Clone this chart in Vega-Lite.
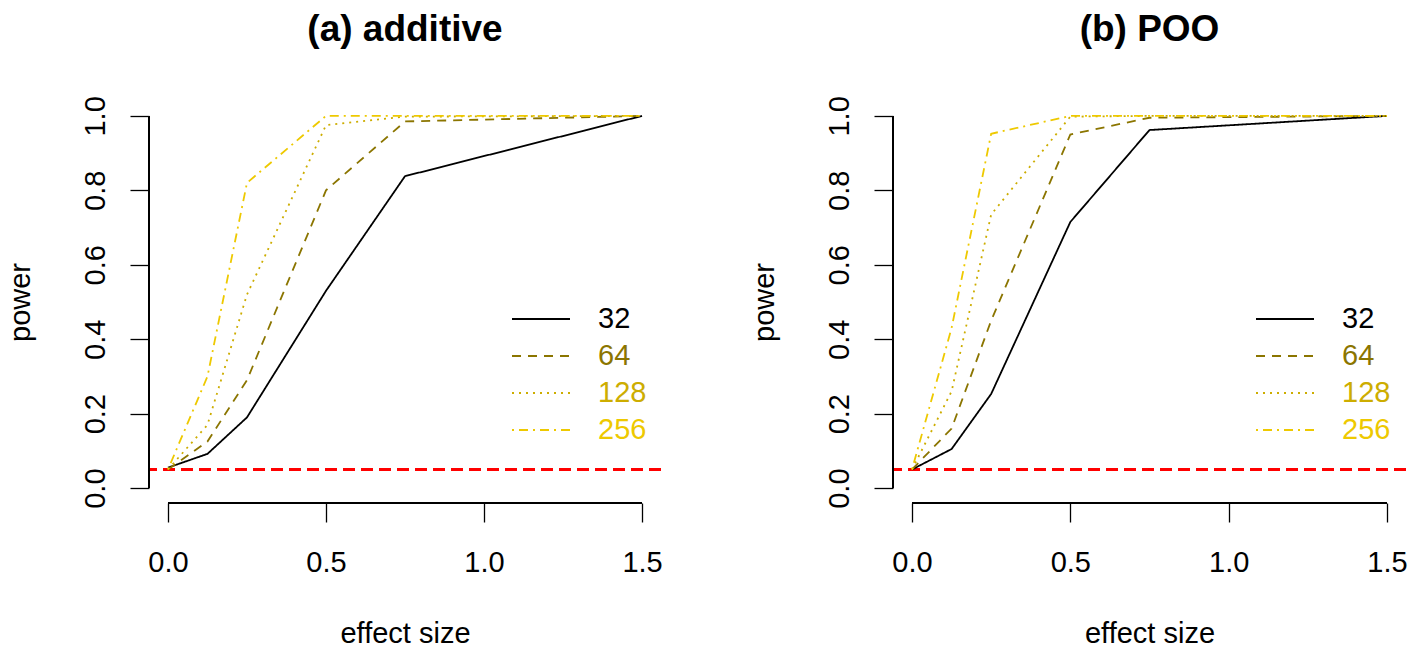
{
  "$schema": "https://vega.github.io/schema/vega-lite/v6.json",
  "background": "white",
  "padding": {"left": 5, "top": 10, "right": 0, "bottom": 0},
  "spacing": 86,
  "config": {
    "view": {"stroke": null},
    "font": "Liberation Sans",
    "axis": {
      "grid": false, "domain": false, "tickColor": "black", "tickWidth": 1.3, "tickSize": 19,
      "labelFont": "Liberation Sans", "labelFontSize": 29, "labelColor": "black",
      "titleFont": "Liberation Sans", "titleFontSize": 29, "titleFontWeight": "normal", "titleColor": "black"
    },
    "title": {"font": "Liberation Sans", "fontSize": 37, "fontWeight": "bold", "color": "black", "baseline": "alphabetic", "offset": 47, "anchor": "middle"},
    "legend": {
      "orient": "none", "legendX": 371, "legendY": 197, "title": null,
      "labelFont": "Liberation Sans", "labelFontSize": 29, "labelOffset": 36,
      "symbolType": "M-1.45,0H1.45", "symbolSize": 1600, "symbolStrokeWidth": 1.8, "rowPadding": 1,
      "labelColor": {"expr": "datum.value == '32' ? '#000000' : datum.value == '64' ? '#8B7500' : datum.value == '128' ? '#CDAD00' : '#EEC900'"}
    }
  },
  "data": {"values": [
    {"panel": "a", "es": 0, "n": "32", "power": 0.055},
    {"panel": "a", "es": 0.125, "n": "32", "power": 0.092},
    {"panel": "a", "es": 0.25, "n": "32", "power": 0.19},
    {"panel": "a", "es": 0.5, "n": "32", "power": 0.53},
    {"panel": "a", "es": 0.75, "n": "32", "power": 0.838},
    {"panel": "a", "es": 1.5, "n": "32", "power": 1.0},
    {"panel": "a", "es": 0, "n": "64", "power": 0.05},
    {"panel": "a", "es": 0.125, "n": "64", "power": 0.125},
    {"panel": "a", "es": 0.25, "n": "64", "power": 0.29},
    {"panel": "a", "es": 0.5, "n": "64", "power": 0.80},
    {"panel": "a", "es": 0.75, "n": "64", "power": 0.985},
    {"panel": "a", "es": 1.5, "n": "64", "power": 1.0},
    {"panel": "a", "es": 0, "n": "128", "power": 0.05},
    {"panel": "a", "es": 0.125, "n": "128", "power": 0.17},
    {"panel": "a", "es": 0.25, "n": "128", "power": 0.52},
    {"panel": "a", "es": 0.5, "n": "128", "power": 0.975},
    {"panel": "a", "es": 0.75, "n": "128", "power": 0.998},
    {"panel": "a", "es": 1.5, "n": "128", "power": 1.0},
    {"panel": "a", "es": 0, "n": "256", "power": 0.05},
    {"panel": "a", "es": 0.125, "n": "256", "power": 0.30},
    {"panel": "a", "es": 0.25, "n": "256", "power": 0.82},
    {"panel": "a", "es": 0.5, "n": "256", "power": 1.0},
    {"panel": "a", "es": 0.75, "n": "256", "power": 1.0},
    {"panel": "a", "es": 1.5, "n": "256", "power": 1.0},
    {"panel": "b", "es": 0, "n": "32", "power": 0.05},
    {"panel": "b", "es": 0.125, "n": "32", "power": 0.105},
    {"panel": "b", "es": 0.25, "n": "32", "power": 0.253},
    {"panel": "b", "es": 0.5, "n": "32", "power": 0.715},
    {"panel": "b", "es": 0.75, "n": "32", "power": 0.962},
    {"panel": "b", "es": 1.5, "n": "32", "power": 1.0},
    {"panel": "b", "es": 0, "n": "64", "power": 0.05},
    {"panel": "b", "es": 0.125, "n": "64", "power": 0.16},
    {"panel": "b", "es": 0.25, "n": "64", "power": 0.45},
    {"panel": "b", "es": 0.5, "n": "64", "power": 0.95},
    {"panel": "b", "es": 0.75, "n": "64", "power": 0.995},
    {"panel": "b", "es": 1.5, "n": "64", "power": 1.0},
    {"panel": "b", "es": 0, "n": "128", "power": 0.05},
    {"panel": "b", "es": 0.125, "n": "128", "power": 0.26},
    {"panel": "b", "es": 0.25, "n": "128", "power": 0.735},
    {"panel": "b", "es": 0.5, "n": "128", "power": 0.998},
    {"panel": "b", "es": 0.75, "n": "128", "power": 1.0},
    {"panel": "b", "es": 1.5, "n": "128", "power": 1.0},
    {"panel": "b", "es": 0, "n": "256", "power": 0.05},
    {"panel": "b", "es": 0.125, "n": "256", "power": 0.43},
    {"panel": "b", "es": 0.25, "n": "256", "power": 0.952},
    {"panel": "b", "es": 0.5, "n": "256", "power": 1.0},
    {"panel": "b", "es": 0.75, "n": "256", "power": 1.0},
    {"panel": "b", "es": 1.5, "n": "256", "power": 1.0}
  ]},
  "resolve": {"legend": {"color": "independent", "strokeDash": "independent"}},
  "hconcat": [
    {
      "title": "(a) additive",
      "width": 512, "height": 402,
      "transform": [{"filter": "datum.panel == 'a'"}],
      "layer": [
        {
          "mark": {"type": "rule", "color": "#FF0000", "strokeWidth": 1.8, "strokeDash": [12, 6]},
          "encoding": {"y": {"datum": 0.05, "type": "quantitative", "scale": {"domain": [-0.04, 1.04], "nice": false, "zero": false}}}
        },
        {
          "mark": {"type": "rule", "color": "black", "strokeWidth": 1.3},
          "encoding": {"x": {"datum": 0, "type": "quantitative"}, "x2": {"datum": 1.5}, "y": {"datum": -0.04, "type": "quantitative"}}
        },
        {
          "mark": {"type": "rule", "color": "black", "strokeWidth": 1.3},
          "encoding": {"y": {"datum": 0, "type": "quantitative"}, "y2": {"datum": 1}, "x": {"datum": -0.06, "type": "quantitative"}}
        },
        {
          "mark": {"type": "line", "strokeWidth": 1.8},
          "encoding": {
            "x": {"field": "es", "type": "quantitative", "title": "effect size",
                  "scale": {"domain": [-0.06, 1.56], "nice": false, "zero": false},
                  "axis": {"values": [0, 0.5, 1, 1.5], "format": ".1f", "labelPadding": 26, "titlePadding": 42}},
            "y": {"field": "power", "type": "quantitative", "title": "power",
                  "scale": {"domain": [-0.04, 1.04], "nice": false, "zero": false},
                  "axis": {"values": [0, 0.2, 0.4, 0.6, 0.8, 1], "format": ".1f", "labelAngle": -90, "labelAlign": "center", "labelBaseline": "bottom", "labelPadding": 20, "titlePadding": 46}},
            "color": {"field": "n", "type": "nominal", "sort": ["32", "64", "128", "256"],
                      "scale": {"domain": ["32", "64", "128", "256"], "range": ["#000000", "#8B7500", "#CDAD00", "#EEC900"]}},
            "strokeDash": {"field": "n", "type": "nominal", "sort": ["32", "64", "128", "256"],
                      "scale": {"domain": ["32", "64", "128", "256"], "range": [[1, 0], [9, 7], [2, 5], [2, 5, 9, 5]]}}
          }
        }
      ]
    },
    {
      "title": "(b) POO",
      "width": 513, "height": 402,
      "transform": [{"filter": "datum.panel == 'b'"}],
      "layer": [
        {
          "mark": {"type": "rule", "color": "#FF0000", "strokeWidth": 1.8, "strokeDash": [12, 6]},
          "encoding": {"y": {"datum": 0.05, "type": "quantitative", "scale": {"domain": [-0.04, 1.04], "nice": false, "zero": false}}}
        },
        {
          "mark": {"type": "rule", "color": "black", "strokeWidth": 1.3},
          "encoding": {"x": {"datum": 0, "type": "quantitative"}, "x2": {"datum": 1.5}, "y": {"datum": -0.04, "type": "quantitative"}}
        },
        {
          "mark": {"type": "rule", "color": "black", "strokeWidth": 1.3},
          "encoding": {"y": {"datum": 0, "type": "quantitative"}, "y2": {"datum": 1}, "x": {"datum": -0.06, "type": "quantitative"}}
        },
        {
          "mark": {"type": "line", "strokeWidth": 1.8},
          "encoding": {
            "x": {"field": "es", "type": "quantitative", "title": "effect size",
                  "scale": {"domain": [-0.06, 1.56], "nice": false, "zero": false},
                  "axis": {"values": [0, 0.5, 1, 1.5], "format": ".1f", "labelPadding": 26, "titlePadding": 42}},
            "y": {"field": "power", "type": "quantitative", "title": "power",
                  "scale": {"domain": [-0.04, 1.04], "nice": false, "zero": false},
                  "axis": {"values": [0, 0.2, 0.4, 0.6, 0.8, 1], "format": ".1f", "labelAngle": -90, "labelAlign": "center", "labelBaseline": "bottom", "labelPadding": 20, "titlePadding": 46}},
            "color": {"field": "n", "type": "nominal", "sort": ["32", "64", "128", "256"],
                      "scale": {"domain": ["32", "64", "128", "256"], "range": ["#000000", "#8B7500", "#CDAD00", "#EEC900"]}},
            "strokeDash": {"field": "n", "type": "nominal", "sort": ["32", "64", "128", "256"],
                      "scale": {"domain": ["32", "64", "128", "256"], "range": [[1, 0], [9, 7], [2, 5], [2, 5, 9, 5]]}}
          }
        }
      ]
    }
  ]
}
